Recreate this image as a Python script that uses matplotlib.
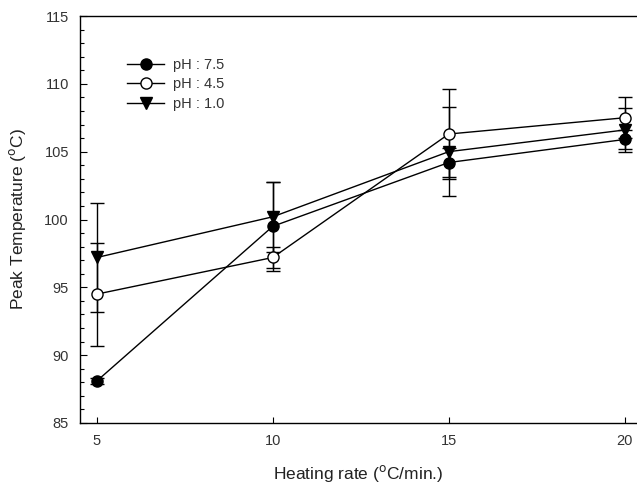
import matplotlib
matplotlib.use("Agg")
import matplotlib.pyplot as plt
from matplotlib.ticker import MultipleLocator
from matplotlib.lines import Line2D

plt.rcParams['font.family'] = ['Liberation Sans', 'DejaVu Sans']

heating_rate = [5, 10, 15, 20]

ph75 = [88.1, 99.5, 104.2, 105.9]
ph75_err = [0.2, 3.3, 1.1, 0.7]

ph45 = [94.5, 97.2, 106.3, 107.5]
ph45_err = [3.8, 0.8, 3.3, 1.5]

ph10 = [97.2, 100.2, 105.0, 106.6]
ph10_err = [4.0, 2.6, 3.3, 1.6]

labels = ['pH : 7.5', 'pH : 4.5', 'pH : 1.0']

fig = plt.figure(figsize=(6.37, 4.84), dpi=100)
ax = fig.add_axes([80 / 637, 1 - 423 / 484, 1 - 80 / 637, (423 - 16) / 484])

common = dict(color='black', linewidth=1.0, elinewidth=1.0, capsize=5,
              capthick=1.0, markeredgewidth=1.0)
styles = [('o', 'black', 8), ('o', 'white', 8), ('v', 'black', 8)]
series = [(ph75, ph75_err), (ph45, ph45_err), (ph10, ph10_err)]

handles = []
for (vals, errs), (mk, fc, ms), lab in zip(series, styles, labels):
    ax.errorbar(heating_rate, vals, yerr=errs, fmt='-' + mk, mfc=fc,
                mec='black', markersize=ms, **common)
    handles.append(Line2D([], [], color='black', linewidth=1.0, marker=mk,
                          mfc=fc, mec='black', markersize=ms, label=lab))

ax.set_xlim(4.52, 20.35)
ax.set_ylim(85, 115)
ax.set_xticks(heating_rate)
ax.yaxis.set_major_locator(MultipleLocator(5))
ax.yaxis.set_minor_locator(MultipleLocator(1))
ax.tick_params(axis='both', which='major', direction='in', length=5,
               width=0.8, labelsize=10.5, labelcolor='#333333', pad=8)
ax.tick_params(axis='y', which='minor', direction='in', length=3, width=0.8)
ax.tick_params(axis='x', which='major', length=4)
ax.spines['right'].set_visible(False)
for s in ('left', 'top', 'bottom'):
    ax.spines[s].set_linewidth(1.0)

ax.set_xlabel('Heating rate ($^{\\mathrm{o}}$C/min.)', fontsize=12.5,
              color='#222222', labelpad=11)
ax.set_ylabel('Peak Temperature ($^{\\mathrm{o}}$C)', fontsize=12.5,
              color='#222222', labelpad=12)

ax.legend(handles=handles, loc='upper left', bbox_to_anchor=(0.06, 0.93),
          frameon=False, fontsize=10.5, handlelength=2.6, labelspacing=0.4,
          handletextpad=0.6, labelcolor='#333333')

fig.savefig('out.png', dpi=100)
